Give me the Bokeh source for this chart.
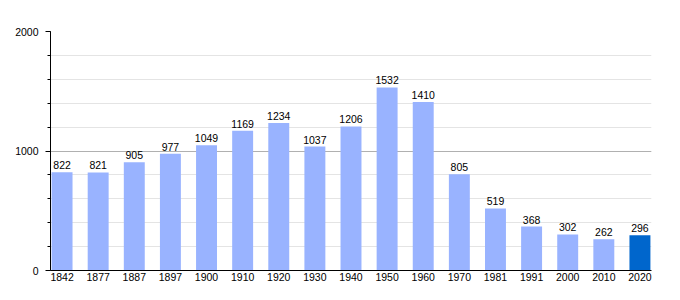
from bokeh.plotting import figure
from bokeh.models import ColumnDataSource, SingleIntervalTicker, Range1d, FactorRange, LabelSet
from bokeh.embed import file_html
from bokeh.resources import INLINE
from bokeh.core.properties import value

years = ["1842", "1877", "1887", "1897", "1900", "1910", "1920", "1930", "1940",
         "1950", "1960", "1970", "1981", "1991", "2000", "2010", "2020"]
population = [822, 821, 905, 977, 1049, 1169, 1234, 1037, 1206,
              1532, 1410, 805, 519, 368, 302, 262, 296]
colors = ["#99b3ff"] * (len(years) - 1) + ["#0066cc"]

src = ColumnDataSource(dict(x=years, y=population, c=colors,
                            lbl=[str(v) for v in population]))

FONT = "Liberation Sans"
FS = "10.5px"

p = figure(width=680, height=300,
           x_range=FactorRange(*years, range_padding=-0.18, range_padding_units="absolute"),
           y_range=Range1d(0, 2000), output_backend="svg", toolbar_location=None,
           min_border_left=50, min_border_right=29, min_border_top=31, min_border_bottom=30)
p.outline_line_color = None
p.background_fill_color = "white"
p.border_fill_color = "white"

p.vbar(x="x", top="y", width=0.58, source=src, fill_color="c", line_color=None)
labels = LabelSet(x="x", y="y", text="lbl", source=src, text_align="center",
                  text_baseline="bottom", y_offset=3, text_font_size=value(FS),
                  text_font=value(FONT), text_color="#000000")
p.add_layout(labels)

p.yaxis.ticker = SingleIntervalTicker(interval=1000, num_minor_ticks=5)
p.yaxis.axis_line_color = "#000000"
p.yaxis.major_tick_line_color = "#000000"
p.yaxis.minor_tick_line_color = "#000000"
p.yaxis.major_tick_in = 0
p.yaxis.major_tick_out = 5
p.yaxis.minor_tick_in = 0
p.yaxis.minor_tick_out = 3
p.yaxis.major_label_text_font = FONT
p.yaxis.major_label_text_font_size = FS
p.yaxis.major_label_text_color = "#000000"
p.yaxis.major_label_standoff = 7

p.xaxis.axis_line_color = "#000000"
p.xaxis.major_tick_line_color = None
p.xaxis.minor_tick_line_color = None
p.xaxis.major_tick_out = 0
p.xaxis.major_tick_in = 0
p.xaxis.major_label_text_font = FONT
p.xaxis.major_label_text_font_size = FS
p.xaxis.major_label_text_color = "#000000"
p.xaxis.major_label_standoff = 2

p.xgrid.grid_line_color = None
p.ygrid.grid_line_color = "#b0b0b0"
p.ygrid.minor_grid_line_color = "#e4e4e4"

open("out.html", "w").write(file_html(p, INLINE))
